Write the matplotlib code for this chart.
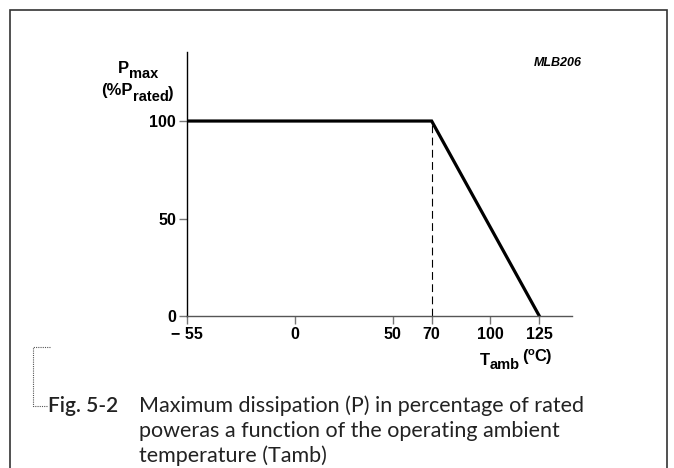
import numpy as np
import matplotlib.pyplot as plt
from matplotlib.patches import Rectangle
from matplotlib.lines import Line2D

# derating curve
temp = [-55, 70, 125]
power = [100, 100, 0]
x_ticks = [-55, 0, 50, 70, 100, 125]
x_labels = ["\u2212 55", "0", "50", "70", "100", "125"]
y_ticks = [0, 50, 100]
caption_lines = ["Maximum dissipation (P) in percentage of rated",
                 "poweras a function of the operating ambient",
                 "temperature (Tamb)"]

W, H = 674, 468
fig = plt.figure(figsize=(W / 100, H / 100), dpi=100)
renderer = fig.canvas.get_renderer()

def px(x0, y0, x1, y1):
    return [x0 / W, 1 - y1 / H, (x1 - x0) / W, (y1 - y0) / H]

# text pieces put one after the other, baselines given in pixels from the top
def chain(x, parts):
    for s, size, yb, gap in parts:
        x += gap
        t = fig.text(x / W, 1 - yb / H, s, ha="left", va="baseline", fontsize=size,
                     family="Liberation Sans", weight="bold")
        x += t.get_window_extent(renderer).width

ax = fig.add_axes(px(187, 52, 572, 316))
ax.plot(temp, power, color="black", lw=2.3, solid_joinstyle="miter")
ax.plot([70, 70], [0, 100], color="black", lw=0.8, linestyle=(0, (7, 4)))
ax.set_xlim(-55, 141.7)
ax.set_ylim(0, 135.4)

for s in ["top", "right"]:
    ax.spines[s].set_visible(False)
ax.spines["left"].set_color("black")
ax.spines["left"].set_linewidth(1.0)
ax.spines["bottom"].set_color("#555555")
ax.spines["bottom"].set_linewidth(1.0)

tick_font = dict(family="Liberation Sans", size=11.5, weight="bold")
ax.set_xticks(x_ticks)
ax.set_xticklabels(x_labels, fontdict=tick_font)
ax.set_yticks(y_ticks)
ax.set_yticklabels([str(v) for v in y_ticks], fontdict=tick_font)
ax.tick_params(axis="both", length=6, width=1.0, color="#777777", pad=2)

chain(118, [("P", 12, 73, 0), ("max", 10.5, 78, 0)])
chain(101, [("(%P", 12, 95, 0), ("rated", 10.5, 101, 0), (")", 12, 98, 0)])
chain(480, [("T", 12, 365, 0), ("amb", 10.5, 369, 0), ("(", 12, 361, 2),
            ("o", 8, 355, 0), ("C)", 12, 361, 0)])

ax.text(134.4, 129.7, "MLB206", ha="center", va="center", fontsize=9,
        family="Liberation Sans", weight="bold", style="italic")

# outer frame
fig.patches.append(Rectangle((10 / W, -0.1), 657 / W, 1.1 - 10 / H, transform=fig.transFigure,
                             fill=False, edgecolor="#333333", lw=1.2))

# dotted bracket
bx = [50 / W, 33 / W, 33 / W, 47 / W]
by = [1 - 347 / H, 1 - 347 / H, 1 - 406 / H, 1 - 406 / H]
fig.lines.append(Line2D(bx, by, transform=fig.transFigure, color="#555555", lw=0.8,
                        linestyle=(0, (1, 1))))

cap_font = "Lato"
fig.text(48 / W, 1 - 406 / H, "Fig. 5-2", ha="left", va="center", fontsize=15,
         family=cap_font, weight="semibold", color="#222222")
for i, line in enumerate(caption_lines):
    fig.text(139 / W, 1 - (406 + 25 * i) / H, line, ha="left", va="center", fontsize=15.5,
             family=cap_font, color="#222222")

fig.savefig("out.png", dpi=100)
